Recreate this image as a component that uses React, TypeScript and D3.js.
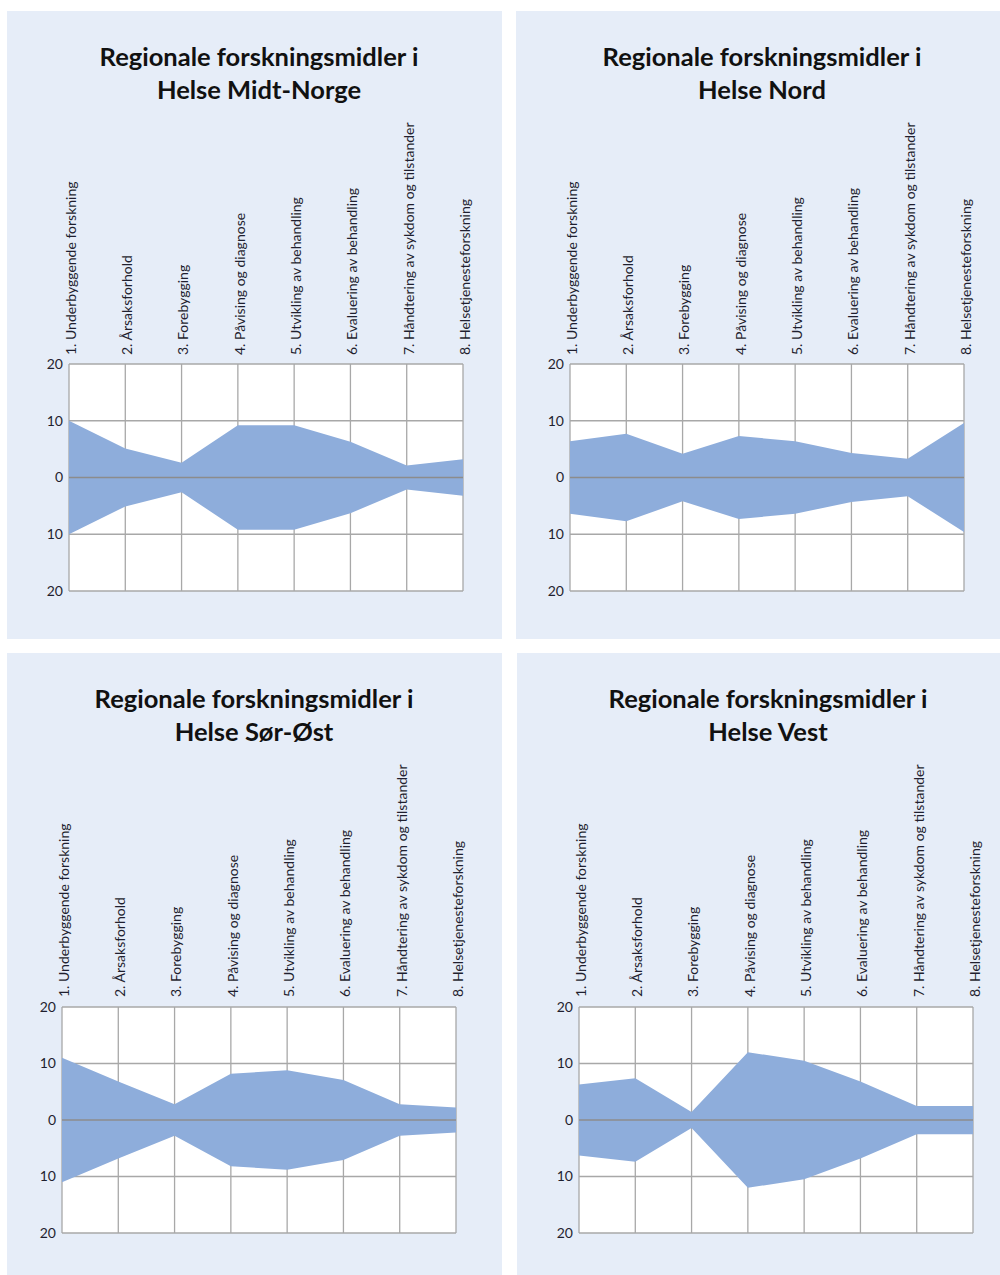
import * as d3 from "d3";
import * as React from "react";
import { useEffect, useRef } from "react";

const categories = [
    "1. Underbyggende forskning",
    "2. Årsaksforhold",
    "3. Forebygging",
    "4. Påvising og diagnose",
    "5. Utvikling av behandling",
    "6. Evaluering av behandling",
    "7. Håndtering av sykdom og tilstander",
    "8. Helsetjenesteforskning",
];

const regions = ["Helse Midt-Norge", "Helse Nord", "Helse Sør-Øst", "Helse Vest"];

const midtNorge = [10.0, 5.1, 2.6, 9.2, 9.2, 6.3, 2.1, 3.2];
const nord = [6.4, 7.7, 4.2, 7.3, 6.4, 4.3, 3.3, 9.6];
const sorOst = [11.0, 6.8, 2.8, 8.2, 8.8, 7.1, 2.8, 2.2];
const vest = [6.3, 7.4, 1.4, 12.0, 10.5, 6.8, 2.5, 2.5];

const yTicks = [-20, -10, 0, 10, 20];

const series = [midtNorge, nord, sorOst, vest];

// panel placement in the 1000x1275 page
const panels = [
    { bg: [7, 11, 495, 628], plot: [69, 463, 364, 591], titleX: 259, titleY: 66, labelY: 355 },
    { bg: [516, 11, 484, 628], plot: [570, 964, 364, 591], titleX: 762, titleY: 66, labelY: 355 },
    { bg: [7, 653, 495, 622], plot: [62, 456, 1007, 1233], titleX: 254, titleY: 708, labelY: 997 },
    { bg: [517, 653, 483, 622], plot: [579, 973, 1007, 1233], titleX: 768, titleY: 708, labelY: 997 },
];

const FONT = "Lato, 'Open Sans', sans-serif";

export default function App() {
    const ref = useRef<SVGSVGElement>(null);

    useEffect(() => {
        const svg = d3.select(ref.current!);
        svg.selectAll("*").remove();

        panels.forEach((p, i) => {
            const [bx, by, bw, bh] = p.bg;
            const [x0, x1, y0, y1] = p.plot;
            const values = series[i];

            const g = svg.append("g");
            g.append("rect")
                .attr("x", bx).attr("y", by).attr("width", bw).attr("height", bh)
                .attr("fill", "#e6edf8");

            g.append("text")
                .attr("x", p.titleX).attr("y", p.titleY)
                .attr("text-anchor", "middle")
                .attr("font-family", FONT).attr("font-weight", 700).attr("font-size", 25.5)
                .attr("fill", "#111")
                .call(t => t.append("tspan").attr("x", p.titleX).text("Regionale forskningsmidler i"))
                .call(t => t.append("tspan").attr("x", p.titleX).attr("dy", 33).text(regions[i]));

            const x = d3.scalePoint<string>().domain(categories).range([x0, x1]);
            const y = d3.scaleLinear().domain([-20, 20]).range([y1, y0]);

            g.append("rect")
                .attr("x", x0).attr("y", y0).attr("width", x1 - x0).attr("height", y1 - y0)
                .attr("fill", "#fff");

            g.append("g")
                .selectAll("line")
                .data(yTicks.filter(t => t !== 0))
                .join("line")
                .attr("x1", x0).attr("x2", x1)
                .attr("y1", d => y(d)).attr("y2", d => y(d))
                .attr("stroke", "#a8a8a8").attr("stroke-width", 1.3);

            g.append("g")
                .selectAll("line")
                .data(categories)
                .join("line")
                .attr("x1", d => x(d)!).attr("x2", d => x(d)!)
                .attr("y1", y0).attr("y2", y1)
                .attr("stroke", "#a8a8a8").attr("stroke-width", 1.3);

            const area = d3.area<number>()
                .x((_, j) => x(categories[j])!)
                .y0(d => y(-d))
                .y1(d => y(d));

            g.append("path")
                .datum(values)
                .attr("d", area)
                .attr("fill", "#8eaddb");

            g.append("line")
                .attr("x1", x0).attr("x2", x1)
                .attr("y1", y(0)).attr("y2", y(0))
                .attr("stroke", "#8c8c8c").attr("stroke-width", 1.3);

            g.append("g")
                .selectAll("text")
                .data(yTicks)
                .join("text")
                .attr("x", x0 - 6)
                .attr("y", d => y(d))
                .attr("dy", "0.35em")
                .attr("text-anchor", "end")
                .attr("font-family", FONT).attr("font-size", 14)
                .attr("fill", "#1f1f2f")
                .text(d => Math.abs(d));

            g.append("g")
                .selectAll("text")
                .data(categories)
                .join("text")
                .attr("transform", d => `translate(${x(d)! + 2},${p.labelY}) rotate(-90)`)
                .attr("dy", "0.35em")
                .attr("text-anchor", "start")
                .attr("font-family", FONT).attr("font-size", 14)
                .attr("fill", "#1f1f2f")
                .text(d => d);
        });
    }, []);

    return (
        <svg ref={ref} width={1000} height={1275}
            style={{ position: "absolute", left: 0, top: 0, background: "#fff" }} />
    );
}
